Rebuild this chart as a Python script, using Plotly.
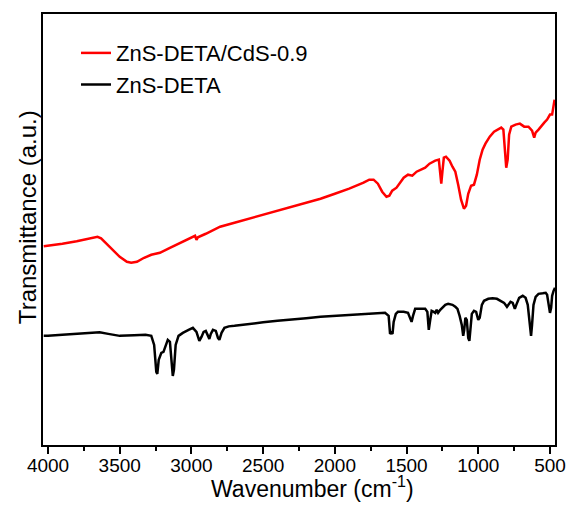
import plotly.graph_objects as go

# ZnS-DETA/CdS-0.9 (red)
red_wn = [4030, 4000, 3900, 3800, 3720, 3680, 3655, 3630, 3600, 3550, 3500, 3450, 3420, 3380, 3330, 3280,
          3220, 3150, 3080, 3000, 2975, 2965, 2955, 2900, 2800, 2700, 2600, 2500, 2400, 2300, 2200,
          2100, 2000, 1900, 1800, 1760, 1730, 1700, 1670, 1640, 1620, 1600, 1570, 1540, 1520, 1490,
          1460, 1430, 1400, 1370, 1340, 1300, 1275, 1265, 1258, 1250, 1240, 1225, 1200, 1180, 1160,
          1140, 1120, 1100, 1085, 1070, 1050, 1030, 1010, 990, 970, 950, 920, 890, 860, 840,
          825, 815, 805, 795, 785, 770, 740, 710, 680, 650, 625, 610, 600, 580, 560,
          540, 520, 500, 485, 475, 468]
red_t = [198.5, 199, 201, 203.5, 206, 207.5, 208, 206.5, 202, 195, 188, 183, 182, 183, 187, 190,
         192, 197, 202, 208, 209, 205, 207.5, 211, 218, 222, 226, 230, 234, 238, 242,
         246, 251, 256, 262, 265, 265, 261, 253, 248, 249, 254, 257, 263, 267, 270,
         269, 273, 275, 277, 281, 284, 285, 273, 261, 273, 287, 288, 284, 278, 273,
         260, 245, 236, 239, 251, 259, 260, 270, 285, 295, 301, 308, 313, 315, 317,
         315, 295, 277, 285, 310, 318, 320, 321, 318, 318, 314, 307, 312, 315, 319,
         322, 325, 330, 330, 337, 345]

# ZnS-DETA (black)
blk_wn = [4030, 4000, 3900, 3800, 3700, 3640, 3580, 3500, 3400, 3320, 3280, 3260, 3245, 3238, 3228,
          3210, 3195, 3180, 3165, 3150, 3140, 3130, 3122, 3110, 3090, 3060, 3020, 2990, 2965, 2945,
          2930, 2915, 2900, 2885, 2875, 2865, 2850, 2830, 2815, 2805, 2790, 2770, 2740, 2700, 2600,
          2500, 2400, 2300, 2200, 2100, 2000, 1900, 1800, 1700, 1650, 1625, 1615, 1607, 1598, 1590,
          1575, 1560, 1520, 1490, 1475, 1465, 1455, 1440, 1400, 1370, 1355, 1345, 1335, 1325, 1310,
          1300, 1290, 1280, 1265, 1250, 1230, 1210, 1180, 1160, 1145, 1130, 1115, 1105, 1098, 1090,
          1080, 1070, 1062, 1055, 1045, 1030, 1015, 1000, 990, 975, 960, 930, 900, 870, 840,
          820, 800, 790, 775, 760, 745, 735, 715, 690, 670, 655, 640, 632, 625, 615,
          600, 580, 550, 530, 520, 510, 500, 492, 485, 475, 465]
blk_t = [109, 109, 110, 111, 112, 112.5, 111, 109, 109.5, 110, 109, 100, 73, 71, 85,
         92, 93, 99, 105, 103, 85, 69, 75, 100, 109, 112, 115, 117, 113, 104,
         108, 113, 114, 110, 106, 111, 115, 114, 107, 105, 112, 117, 118.5, 119, 121,
         122.5, 124, 125, 126.5, 128, 129, 130, 131, 132, 132, 129, 111, 112, 111, 123,
         131, 133, 133, 132, 127, 123, 129, 136, 136, 136, 133, 115, 125, 134, 133,
         132, 135, 132, 135, 137, 140, 141, 140, 138, 136, 129, 120, 109, 115, 127,
         125, 107, 104, 115, 131, 134, 133, 125, 127, 140, 144, 146, 146.5, 146, 144,
         142, 138, 140, 143, 142, 136, 140, 147, 149, 147, 140, 120, 109, 120, 140,
         148, 151, 151.5, 152, 150, 140, 132, 137, 149, 154, 157]

x_ticks = [4000, 3500, 3000, 2500, 2000, 1500, 1000, 500]
x_title = "Wavenumber (cm<sup>-1</sup>)"
y_title = "Transmittance (a.u.)"

fig = go.Figure()
fig.add_trace(go.Scatter(x=red_wn, y=red_t, mode="lines", name="ZnS-DETA/CdS-0.9",
                         line=dict(color="#ff0000", width=2.5)))
fig.add_trace(go.Scatter(x=blk_wn, y=blk_t, mode="lines", name="ZnS-DETA",
                         line=dict(color="#000000", width=2.5)))

font_family = "Liberation Sans, Arial, sans-serif"
fig.update_layout(
    width=569, height=509,
    margin=dict(l=43, r=14, t=14, b=64),
    paper_bgcolor="white", plot_bgcolor="white",
    font=dict(family=font_family, color="black"),
    showlegend=True,
    legend=dict(x=0.0645, y=0.958, xanchor="left", yanchor="top",
                font=dict(size=22, family=font_family), bgcolor="rgba(0,0,0,0)"),
    xaxis=dict(range=[4035, 465], tickvals=x_ticks, ticktext=[str(v) for v in x_ticks],
               ticks="outside", ticklen=7, tickwidth=2, tickcolor="black",
               ticklabelstandoff=-5,
               minor=dict(dtick=250, ticks="outside", ticklen=4, tickwidth=2, tickcolor="black"),
               showline=True, linecolor="black", linewidth=2, mirror=True,
               showgrid=False, zeroline=False, automargin=False,
               tickfont=dict(size=19, family=font_family)),
    yaxis=dict(range=[0, 430.5], showticklabels=False, ticks="",
               showline=True, linecolor="black", linewidth=2, mirror=True,
               showgrid=False, zeroline=False, automargin=False),
    annotations=[
        dict(text=x_title, xref="paper", yref="paper", x=0.527, y=-0.098,
             xanchor="center", yanchor="middle", showarrow=False,
             font=dict(size=23, family=font_family, color="black")),
        dict(text=y_title, xref="paper", yref="paper", x=-0.031, y=0.529, textangle=-90,
             xanchor="center", yanchor="middle", showarrow=False,
             font=dict(size=24, family=font_family, color="black")),
    ],
)

fig.write_html("out.html", config={"displayModeBar": False},
               post_script="document.body.style.margin='0';")
